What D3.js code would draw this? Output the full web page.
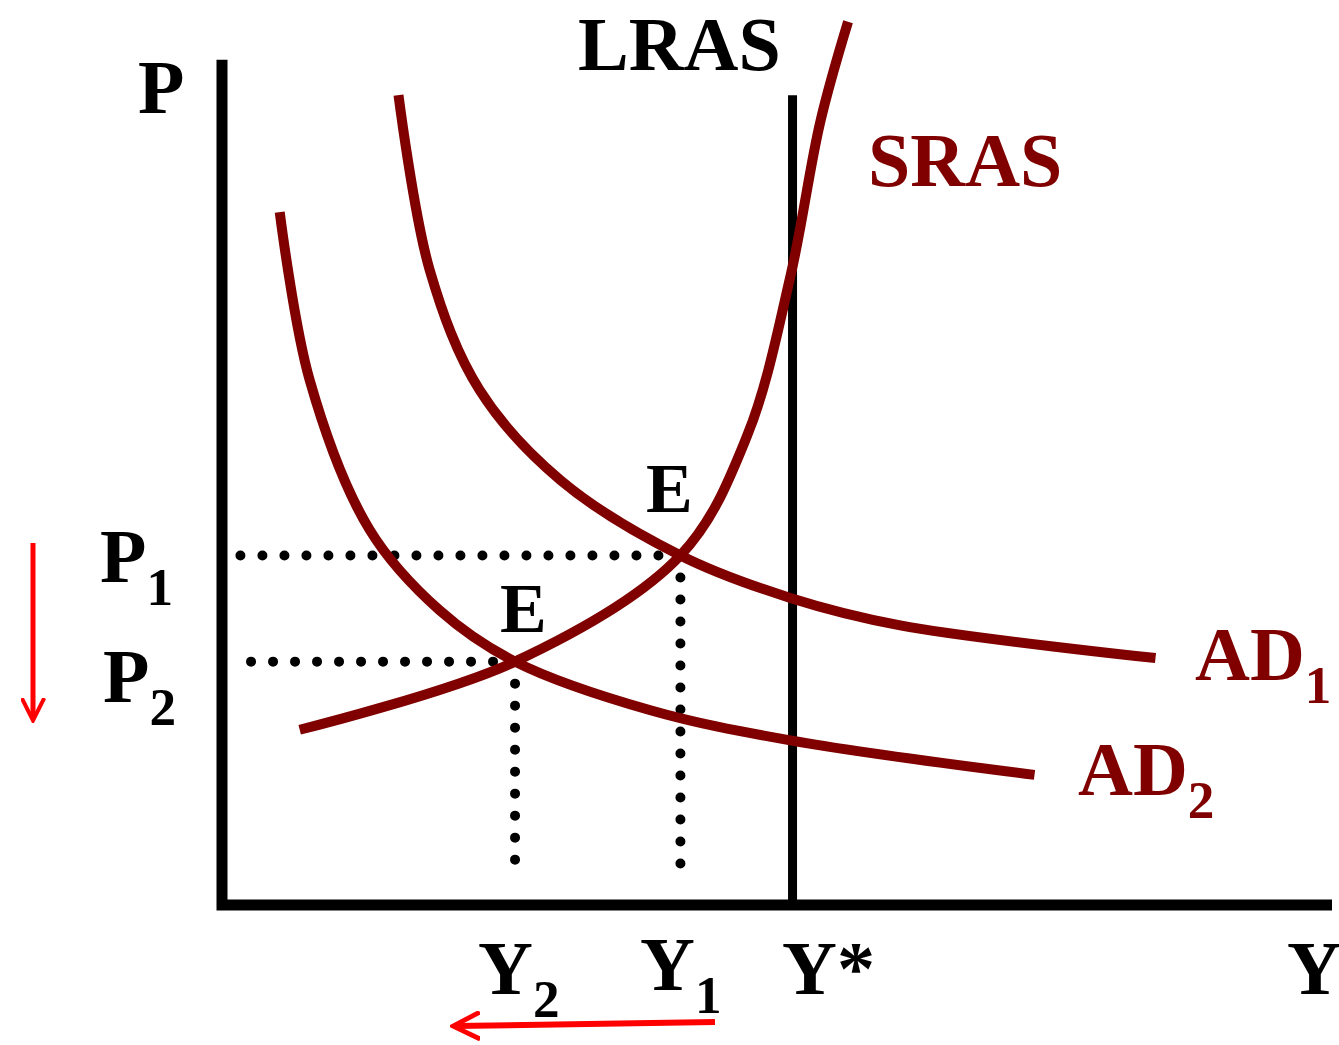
<!DOCTYPE html>
<html><head><meta charset="utf-8">
<script src="https://cdn.jsdelivr.net/npm/d3@7"></script>
<style>body{margin:0;background:#fff} text{font-family:"Liberation Serif","Times New Roman",Times,serif;font-weight:bold}</style></head>
<body><svg id="c"></svg>
<script>
// data in model units (quantity, price) on 0..100
const sras = [[7.0,19.8],[26.4,27.5],[41.3,39.5],[47.3,53.0],[51.2,71.0],[53.9,88.5],[56.4,99.8]];
const ad1 = [[15.9,91.5],[18.7,71.8],[23.2,58.2],[30.5,48.0],[41.3,39.5],[51.2,34.7],[61.1,31.6],[84.1,27.9]];
const ad2 = [[5.2,78.3],[7.9,59.3],[13.3,42.4],[19.6,33.3],[26.4,27.5],[38.6,22.0],[51.2,18.6],[73.2,14.7]];
const yStar = 51.4, lrasTop = 91.5, axisTop = 95.5;

const W = 1339, H = 1045, red = "#800000";
const x = d3.scaleLinear().domain([0,100]).range([222,1332]);
const y = d3.scaleLinear().domain([0,100]).range([905,20]);
const svg = d3.select("#c").attr("width",W).attr("height",H);
svg.append("defs").append("marker").attr("id","ah").attr("viewBox","0 0 10 10")
  .attr("refX",8).attr("refY",5).attr("markerWidth",5).attr("markerHeight",5).attr("orient","auto")
  .append("path").attr("d","M0,0.5 L9,5 L0,9.5").attr("fill","none").attr("stroke","#f00").attr("stroke-width",1.6);

// axes
svg.append("path").attr("d",`M${x(0)},${y(axisTop)} V${y(0)} H${x(100)}`)
  .attr("fill","none").attr("stroke","#000").attr("stroke-width",11);
svg.append("line").attr("x1",x(yStar)).attr("x2",x(yStar)).attr("y1",y(lrasTop)).attr("y2",y(0))
  .attr("stroke","#000").attr("stroke-width",9);

// dotted guides
const dots = (x1,y1,x2,y2) => svg.append("line").attr("x1",x1).attr("y1",y1).attr("x2",x2).attr("y2",y2)
  .attr("stroke","#000").attr("stroke-width",10).attr("stroke-linecap","round").attr("stroke-dasharray","0 22");
dots(x(41.3), y(39.5), x(1.6), y(39.5));
dots(x(41.3), y(39.5), x(41.3), y(3));
dots(x(26.4), y(27.5), x(2.5), y(27.5));
dots(x(26.4), y(27.5), x(26.4), y(3));

// curves
const line = d3.line().x(d=>x(d[0])).y(d=>y(d[1])).curve(d3.curveCatmullRom.alpha(0.5));
[sras, ad1, ad2].forEach(s => svg.append("path").attr("d",line(s))
  .attr("fill","none").attr("stroke",red).attr("stroke-width",10));

// labels
const txt = (t, px, py, size, col, sub) => {
  const el = svg.append("text").attr("x",px).attr("y",py)
    .attr("font-size",size).attr("fill",col).text(t);
  if (sub) el.append("tspan").attr("font-size",size*0.7).attr("dy",size*0.3).text(sub);
};
txt("P",138,113,76,"#000");
txt("LRAS",578,70,76,"#000");
txt("SRAS",868,186,76,red);
txt("E",646,512,70,"#000");
txt("E",500,632,70,"#000");
txt("P",100,582,76,"#000","1");
txt("P",103,702,76,"#000","2");
txt("AD",1195,680,76,red,"1");
txt("AD",1078,795,76,red,"2");
txt("Y",478,994,76,"#000","2");
txt("Y",640,990,76,"#000","1");
txt("Y*",782,994,76,"#000");
txt("Y",1287,994,76,"#000");

// red arrows
svg.append("line").attr("x1",33).attr("y1",543).attr("x2",33).attr("y2",718)
  .attr("stroke","#f00").attr("stroke-width",5).attr("marker-end","url(#ah)");
svg.append("line").attr("x1",715).attr("y1",1022).attr("x2",456).attr("y2",1026)
  .attr("stroke","#f00").attr("stroke-width",6).attr("marker-end","url(#ah)");
</script></body></html>
